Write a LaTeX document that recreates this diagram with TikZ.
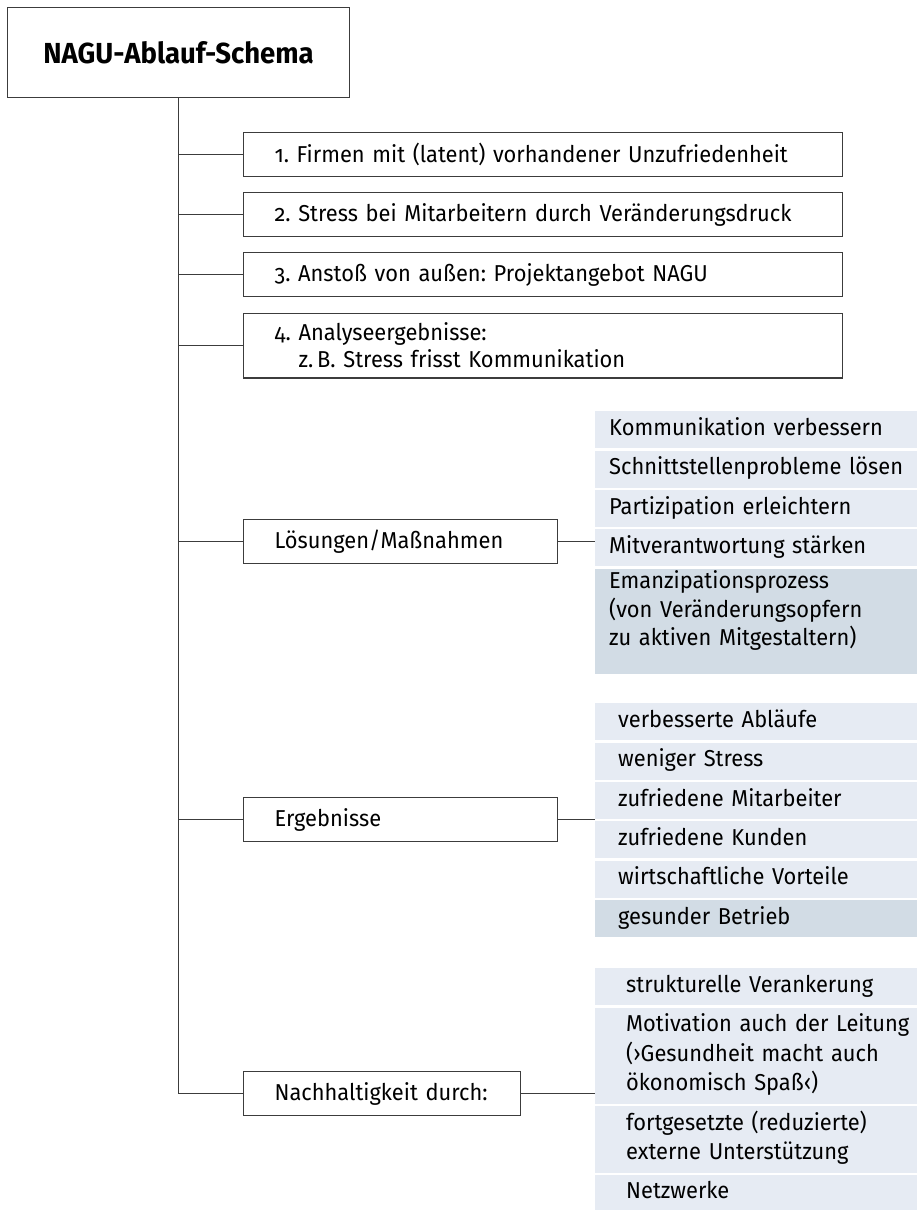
\documentclass[tikz,border=0pt]{standalone}
\usepackage{fontspec}
\setmainfont{Fira Sans}[Numbers=OldStyle, FakeStretch=0.95]
\usepackage{xcolor}
\usetikzlibrary{positioning}

\definecolor{cellblue}{HTML}{E6EBF3}
\definecolor{celldark}{HTML}{D2DCE5}
\definecolor{linegrey}{HTML}{3C3C3C}
\frenchspacing

\begin{document}
\begin{tikzpicture}[x=1pt, y=-1pt,
    node distance=2pt,
    head/.style={rectangle, draw=linegrey, line width=1.2pt, anchor=north west, minimum width=342pt, minimum height=90pt, font=\fontsize{29}{34}\selectfont\bfseries},
    phase/.style={rectangle, draw=linegrey, line width=1.2pt, anchor=north west, text width=#1, inner xsep=0pt, inner ysep=8.5pt, minimum height=44pt, align=left, font=\fontsize{23}{27}\selectfont, execute at begin node={\leftskip=31pt\relax}},
    cell/.style={rectangle, fill=cellblue, anchor=north west, text width=322pt, inner xsep=0pt, inner ysep=7pt, text height=17pt, text depth=6pt, align=left, font=\fontsize{23}{29.5}\selectfont, execute at begin node={\leftskip=#1\relax}},
    cell/.default=14pt,
    link/.style={draw=linegrey, line width=1.2pt}
]
\useasboundingbox (0,0) rectangle (917,1210);

% Schema and steps
\node[head] (schema) at (7,7) {NAGU-Ablauf-Schema};
\node[phase=599pt] (p1) at (243,132) {1. Firmen mit (latent) vorhandener Unzufriedenheit};
\node[phase=599pt] (p2) at (243,192) {2. Stress bei Mitarbeitern durch Veränderungsdruck};
\node[phase=599pt] (p3) at (243,252) {3. Anstoß von außen: Projektangebot NAGU};
\node[phase=599pt] (p4) at (243,313) {4. Analyseergebnisse:\\\phantom{4.\ }z.\,B. Stress frisst Kommunikation};
\node[phase=314pt] (loes) at (243,519) {Lösungen/Maßnahmen};
\node[phase=314pt] (erg) at (243,797) {Ergebnisse};
\node[phase=277pt] (nach) at (243,1071) {Nachhaltigkeit durch:};

% Measures
\node[cell] (l1) at (595,411) {Kommunikation verbessern};
\node[cell, below=of l1] (l2) {Schnittstellenprobleme lösen};
\node[cell, below=of l2] (l3) {Partizipation erleichtern};
\node[cell, below=of l3] (l4) {Mitverantwortung stärken};
\node[cell, fill=celldark, text height=13pt, text depth=78pt, font=\fontsize{23}{28.5}\selectfont, below=of l4] (l5) {Emanzipationsprozess\\(von Veränderungsopfern\\zu aktiven Mitgestaltern)};

% Results
\node[cell=23pt] (e1) at (595,703) {verbesserte Abläufe};
\node[cell=23pt, below=of e1] (e2) {weniger Stress};
\node[cell=23pt, below=of e2] (e3) {zufriedene Mitarbeiter};
\node[cell=23pt, below=of e3] (e4) {zufriedene Kunden};
\node[cell=23pt, below=of e4] (e5) {wirtschaftliche Vorteile};
\node[cell=23pt, fill=celldark, below=of e5] (e6) {gesunder Betrieb};

% Sustainability
\node[cell=31pt] (n1) at (595,968) {strukturelle Verankerung};
\node[cell=31pt, text depth=65pt, below=of n1] (n2) {Motivation auch der Leitung\\(›Gesundheit macht auch\\ökonomisch Spaß‹)};
\node[cell=31pt, text depth=35.5pt, below=of n2] (n3) {fortgesetzte (reduzierte)\\externe Unterstützung};
\node[cell=31pt, below=of n3] (n4) {Netzwerke};

% Lines
\draw[link] (schema.south) -- (schema.south |- nach.west);
\draw[link] (p1.west -| schema.south) -- (p1.west);
\draw[link] (p2.west -| schema.south) -- (p2.west);
\draw[link] (p3.west -| schema.south) -- (p3.west);
\draw[link] (p4.west -| schema.south) -- (p4.west);
\draw[link] (loes.west -| schema.south) -- (loes.west);
\draw[link] (erg.west -| schema.south) -- (erg.west);
\draw[link] (nach.west -| schema.south) -- (nach.west);

\draw[link] (loes.east) -- (loes.east -| l1.west);
\draw[link] (erg.east) -- (erg.east -| e1.west);
\draw[link] (nach.east) -- (nach.east -| n1.west);

\end{tikzpicture}
\end{document}
